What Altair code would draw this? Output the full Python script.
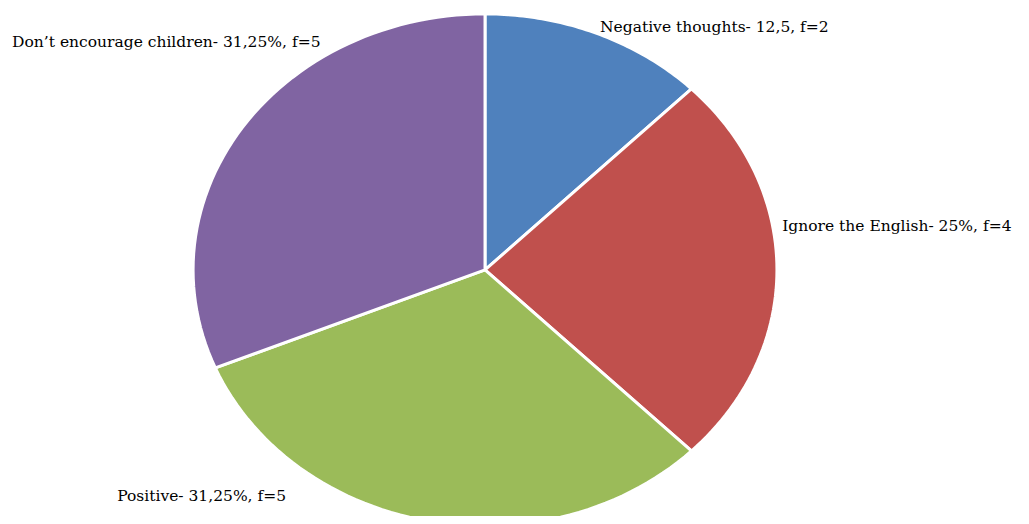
import altair as alt
import pandas as pd

categories = ["Negative thoughts", "Ignore the English", "Positive", "Don't encourage children"]
freq = [2, 4, 5, 5]
labels = [
    "Negative thoughts- 12,5, f=2",
    "Ignore the English-  25%, f=4",
    "Positive-  31,25%, f=5",
    "Don\u2019t encourage children- 31,25%, f=5",
]
colors = ["#4F81BD", "#C0504D", "#9BBB59", "#8064A2"]

# label anchor points, in units of the pie's radii
label_x = [0.394, 1.018, -1.26, -1.62]
label_y = [0.949, 0.172, -0.883, 0.89]

slices = pd.DataFrame({"category": categories, "value": freq, "order": list(range(len(categories)))})
texts = pd.DataFrame({"label": labels, "lx": label_x, "ly": label_y})

N = 60
xs = alt.Scale(domain=[-1.634, 1.836], nice=False, zero=False)
ys = alt.Scale(domain=[-0.961, 1.023], nice=False, zero=False)

pie = (
    alt.Chart(slices)
    .transform_joinaggregate(total="sum(value)")
    .transform_window(cum="sum(value)", sort=[alt.SortField("order")])
    .transform_calculate(
        start="2*PI*(datum.cum - datum.value)/datum.total",
        end="2*PI*datum.cum/datum.total",
        pts=f"sequence(-1, {N + 2})",
    )
    .transform_flatten(["pts"], as_=["i"])
    .transform_calculate(
        a=f"datum.start + (datum.end - datum.start)*clamp(datum.i, 0, {N})/{N}",
    )
    .transform_calculate(
        px=f"(datum.i < 0 || datum.i > {N}) ? 0 : sin(datum.a)",
        py=f"(datum.i < 0 || datum.i > {N}) ? 0 : cos(datum.a)",
    )
    .mark_line(stroke="white", strokeWidth=3, strokeJoin="round", clip=True)
    .encode(
        x=alt.X("px:Q", scale=xs, axis=None),
        y=alt.Y("py:Q", scale=ys, axis=None),
        fill=alt.Fill("category:N", scale=alt.Scale(domain=categories, range=colors), legend=None),
        detail="category:N",
        order="i:Q",
    )
)

text = (
    alt.Chart(texts)
    .mark_text(align="left", baseline="middle", font="DejaVu Serif", fontSize=15.5, color="#000000")
    .encode(
        x=alt.X("lx:Q", scale=xs, axis=None),
        y=alt.Y("ly:Q", scale=ys, axis=None),
        text="label:N",
    )
)

chart = (
    alt.layer(pie, text)
    .properties(width=1013, height=508, autosize=alt.AutoSizeParams(type="none"), padding=0)
    .configure_view(stroke=None)
)

chart.save("out.html", embed_options={"renderer": "svg", "actions": False})
